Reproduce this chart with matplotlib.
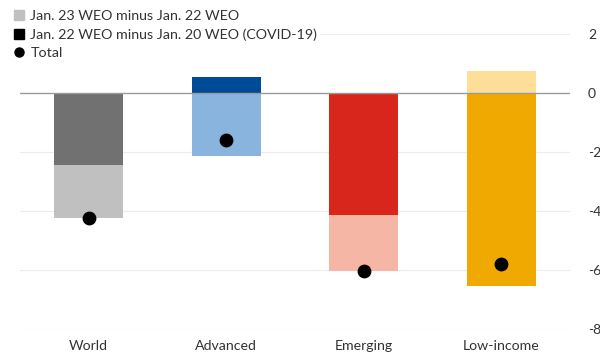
import matplotlib
matplotlib.use("Agg")
import matplotlib.pyplot as plt
from matplotlib.lines import Line2D
import numpy as np

plt.rcParams['font.family'] = ['Lato', 'DejaVu Sans']
plt.rcParams['axes.unicode_minus'] = False

categories = ["World", "Advanced", "Emerging", "Low-income"]
covid_rev = [-2.44, 0.55, -4.15, -6.54]     # Jan. 22 WEO minus Jan. 20 WEO
recent_rev = [-1.81, -2.15, -1.87, 0.76]    # Jan. 23 WEO minus Jan. 22 WEO
total = [-4.25, -1.60, -6.02, -5.78]
yticks = [2, 0, -2, -4, -6, -8]

dark_colors = ["#717171", "#004b97", "#d9261c", "#f0a900"]
light_colors = ["#c0c0c0", "#89b4de", "#f6b6a6", "#fddf99"]

fig = plt.figure(figsize=(6.0, 3.53), dpi=100)
ax = fig.add_axes([20/600, 1-329/353, 550/600, 295/353])

x = np.arange(len(categories))
ax.bar(x, covid_rev, width=0.5, color=dark_colors, zorder=2)
bottoms = [c if (c * r) > 0 else 0 for c, r in zip(covid_rev, recent_rev)]
ax.bar(x, recent_rev, bottom=bottoms, width=0.5, color=light_colors, zorder=2)
ax.scatter(x, total, s=80, color="black", zorder=4)

ax.set_xlim(-0.5, 3.5)
ax.set_ylim(-8, 2)
ax.set_yticks(yticks)
ax.set_yticklabels([str(t) for t in yticks])
ax.yaxis.tick_right()
ax.tick_params(axis='y', length=0, pad=13, labelsize=10, labelcolor="#333333")
ax.set_xticks(x)
ax.set_xticklabels(categories)
ax.tick_params(axis='x', length=0, pad=8, labelsize=10.2, labelcolor="#333333")
for s in ax.spines.values():
    s.set_visible(False)
for t in yticks:
    if t == 0:
        continue
    ax.axhline(t, color="#ececec", lw=0.8, zorder=1)
ax.axhline(0, color="#9a9a9a", lw=1.0, zorder=3)

handles = [
    Line2D([], [], marker='s', linestyle='none', color="#c0c0c0", markersize=6.5),
    Line2D([], [], marker='s', linestyle='none', color="black", markersize=6.5),
    Line2D([], [], marker='o', linestyle='none', color="black", markersize=6.5),
]
labels = ["Jan. 23 WEO minus Jan. 22 WEO",
          "Jan. 22 WEO minus Jan. 20 WEO (COVID-19)",
          "Total"]
fig.legend(handles, labels, loc='upper left', bbox_to_anchor=(0.003, 1.0),
           frameon=True, facecolor='white', edgecolor='none', framealpha=1,
           fontsize=10.3, labelcolor="#333333", handletextpad=0.3,
           handlelength=1.0, labelspacing=0.42, borderpad=0.2)

fig.savefig("out.png", dpi=100, facecolor="white")
